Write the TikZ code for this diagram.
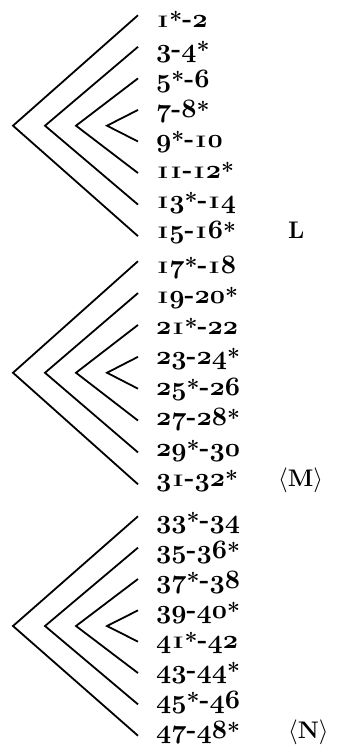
\documentclass[tikz,border=0pt]{standalone}
\usepackage{graphicx}
\DeclareFontFamily{OML}{cmmx}{\skewchar\font127 }
\DeclareFontShape{OML}{cmmx}{b}{it}{<->cmmib10}{}
\makeatletter
\newcommand\oneI{\makebox[0.5em]{\fontsize{16.6}{17}\selectfont\bfseries\scalebox{1.45}[1]{I}}}
\newcommand\nm[1]{\@tfor\nm@c:=#1\do{\nm@one\nm@c}}
\def\nm@one#1{\if1#1\oneI\else{\usefont{OML}{cmmx}{b}{it}#1}\fi}
\makeatother
\newcommand\astk{\raisebox{-1pt}{\fontsize{23}{23}\selectfont\bfseries *}}
\newcommand\hy{{\bfseries -}}
\tikzset{
  rowtext/.style={anchor=base west, inner sep=0pt, font=\fontsize{26.5}{30}\selectfont},
  labtext/.style={anchor=base west, inner sep=0pt, font=\fontsize{24}{30}\selectfont\bfseries},
  chev/.style={draw=black, line width=1.8pt, line join=miter},
}
\newcommand\drawgroup[4]{%
  \foreach \t [count=\i from 0] in {#4} {
    \pgfmathsetmacro\yc{#2+\i*#3}
    \pgfmathsetmacro\ye{#2+3.5*#3+(\i-3.5)*#3*1.045}
    \node[rowtext] (#1r\i) at (156,\yc+7) {\t};
    \coordinate (#1e\i) at (138,\ye);
  }
  \pgfmathsetmacro\ym{#2+3.5*#3}
  \coordinate (#1a1) at (13,\ym);
  \coordinate (#1a2) at (45,\ym);
  \coordinate (#1a3) at (76,\ym);
  \coordinate (#1a4) at (107,\ym);
  \draw[chev] (#1e0) -- (#1a1) -- (#1e7);
  \draw[chev] (#1e1) -- (#1a2) -- (#1e6);
  \draw[chev] (#1e2) -- (#1a3) -- (#1e5);
  \draw[chev] (#1e3) -- (#1a4) -- (#1e4);
}
\begin{document}
\begin{tikzpicture}[x=1pt,y=-1pt]
\useasboundingbox (0,0) rectangle (337,753);
\drawgroup{A}{20}{30.2}{\nm{1}\astk\hy\nm{2}, \nm{3}\hy\nm{4}\astk, \nm{5}\astk\hy\nm{6}, \nm{7}\hy\nm{8}\astk, \nm{9}\astk\hy\nm{10}, \nm{11}\hy\nm{12}\astk, \nm{13}\astk\hy\nm{14}, \nm{15}\hy\nm{16}\astk}
\drawgroup{B}{266}{30.5}{\nm{17}\astk\hy\nm{18}, \nm{19}\hy\nm{20}\astk, \nm{21}\astk\hy\nm{22}, \nm{23}\hy\nm{24}\astk, \nm{25}\astk\hy\nm{26}, \nm{27}\hy\nm{28}\astk, \nm{29}\astk\hy\nm{30}, \nm{31}\hy\nm{32}\astk}
\drawgroup{C}{521}{30}{\nm{33}\astk\hy\nm{34}, \nm{35}\hy\nm{36}\astk, \nm{37}\astk\hy\nm{38}, \nm{39}\hy\nm{40}\astk, \nm{41}\astk\hy\nm{42}, \nm{43}\hy\nm{44}\astk, \nm{45}\astk\hy\nm{46}, \nm{47}\hy\nm{48}\astk}
\node[labtext] (labL) at (288,238.4) {L};
\node[labtext] (labM) at (278,486.5) {$\langle$M$\rangle$};
\node[labtext] (labN) at (288,738) {$\langle$N$\rangle$};
\end{tikzpicture}
\end{document}
